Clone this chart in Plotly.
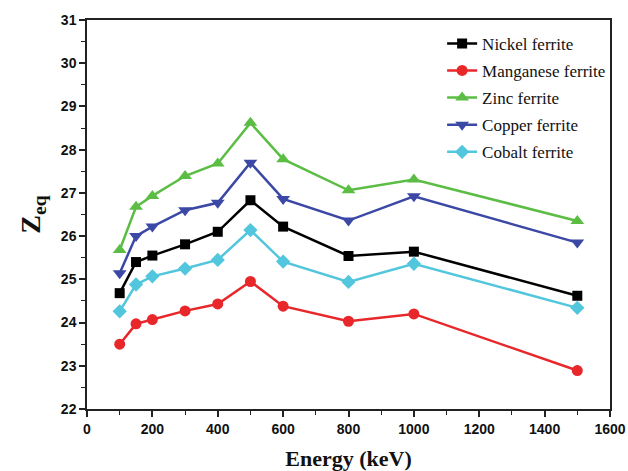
import plotly.graph_objects as go

energy = [100, 150, 200, 300, 400, 500, 600, 800, 1000, 1500]
nickel = [24.68, 25.40, 25.55, 25.81, 26.10, 26.83, 26.22, 25.54, 25.64, 24.62]
manganese = [23.50, 23.97, 24.07, 24.27, 24.43, 24.95, 24.38, 24.03, 24.20, 22.89]
zinc = [25.68, 26.68, 26.93, 27.39, 27.68, 28.62, 27.78, 27.06, 27.31, 26.35]
copper = [25.14, 26.00, 26.22, 26.60, 26.77, 27.70, 26.86, 26.36, 26.92, 25.85]
cobalt = [24.26, 24.88, 25.07, 25.25, 25.45, 26.14, 25.41, 24.94, 25.36, 24.34]

names = ["Nickel ferrite", "Manganese ferrite", "Zinc ferrite", "Copper ferrite", "Cobalt ferrite"]
series = [nickel, manganese, zinc, copper, cobalt]
colors = ["#000000", "#e8272b", "#5bbd44", "#3b48a5", "#52c6dd"]
symbols = ["square", "circle", "triangle-up", "triangle-down", "diamond"]
sizes = [10, 11, 12, 12, 11]

x_ticks = list(range(0, 1601, 200))
y_ticks = list(range(22, 32))

fig = go.Figure()
for n, s, c, sym, sz in zip(names, series, colors, symbols, sizes):
    fig.add_trace(go.Scatter(
        x=energy, y=s, name=n, mode="lines+markers",
        line=dict(color=c, width=2.5),
        marker=dict(symbol=sym, size=sz, color=c),
        legendgroup=n,
    ))

serif = "Times New Roman, Liberation Serif, serif"
axis_font = dict(family="Arial, Liberation Sans, sans-serif", size=14, color="#111111")
fig.update_layout(
    width=628, height=471,
    margin=dict(l=87, r=18, t=20, b=62),
    plot_bgcolor="white", paper_bgcolor="white",
    showlegend=True,
    legend=dict(
        x=0.679, y=0.985, xanchor="left", yanchor="top",
        font=dict(family=serif, size=17, color="#111111"),
        bgcolor="rgba(0,0,0,0)", borderwidth=0,
        tracegroupgap=2,
    ),
    xaxis=dict(
        range=[0, 1600], tickvals=x_ticks, ticktext=[f"<b>{v}</b>" for v in x_ticks],
        ticks="outside", ticklen=6, tickwidth=1.5, tickcolor="#222",
        minor=dict(dtick=100, tick0=0, ticks="outside", ticklen=4, tickwidth=1.2, tickcolor="#222", showgrid=False),
        showline=True, linecolor="#222", linewidth=1.5, mirror=True,
        showgrid=False, zeroline=False, tickfont=axis_font, automargin=False,
        title=dict(text="<b>Energy (keV)</b>", font=dict(family=serif, size=22, color="#111"), standoff=15),
    ),
    yaxis=dict(
        range=[22, 31], tickvals=y_ticks, ticktext=[f"<b>{v}</b>" for v in y_ticks],
        ticks="outside", ticklen=6, tickwidth=1.5, tickcolor="#222",
        minor=dict(dtick=0.5, tick0=22, ticks="outside", ticklen=4, tickwidth=1.2, tickcolor="#222", showgrid=False),
        showline=True, linecolor="#222", linewidth=1.5, mirror=True,
        showgrid=False, zeroline=False, tickfont=axis_font, automargin=False,
        title=dict(text="<b>Z<sub>eq</sub></b>", font=dict(family=serif, size=28, color="#111"), standoff=12),
    ),
)

fig.write_html(
    "out.html",
    config={"displayModeBar": False},
    post_script="document.body.style.margin='0';document.body.style.overflow='hidden';",
)
